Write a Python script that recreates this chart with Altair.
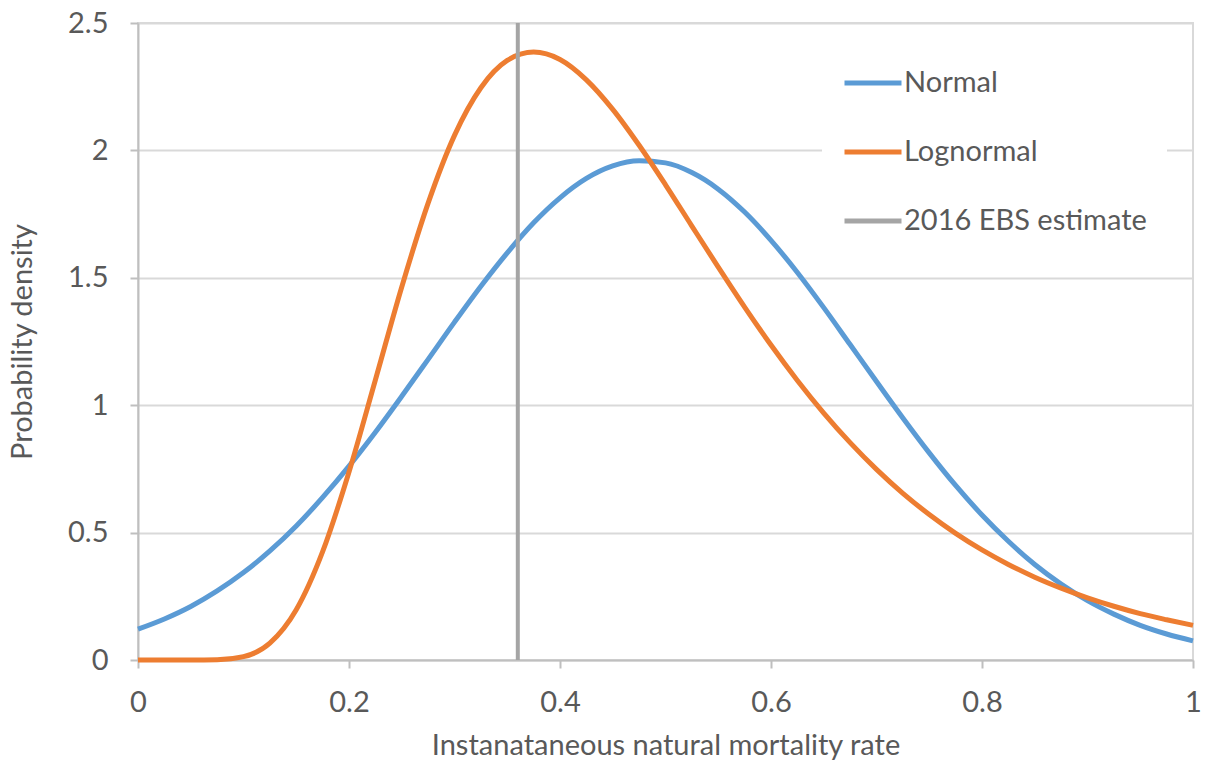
import altair as alt
import pandas as pd

# Natural mortality rate grid and the two prior densities evaluated on it
mortality = [0.0, 0.025, 0.05, 0.075, 0.1, 0.125, 0.15, 0.175, 0.2, 0.225,
             0.25, 0.275, 0.3, 0.325, 0.35, 0.375, 0.4, 0.425, 0.45, 0.475,
             0.5, 0.525, 0.55, 0.575, 0.6, 0.625, 0.65, 0.675, 0.7, 0.725,
             0.75, 0.775, 0.8, 0.825, 0.85, 0.875, 0.9, 0.925, 0.95, 0.975, 1.0]

normal_density = [0.121, 0.161, 0.210, 0.271, 0.343, 0.428, 0.526, 0.638, 0.761, 0.894,
                  1.035, 1.180, 1.326, 1.467, 1.598, 1.716, 1.814, 1.890, 1.939, 1.959,
                  1.951, 1.913, 1.848, 1.758, 1.647, 1.521, 1.383, 1.238, 1.093, 0.950,
                  0.813, 0.685, 0.569, 0.466, 0.375, 0.298, 0.233, 0.180, 0.136, 0.102, 0.075]

lognormal_density = [0.0, 0.0, 0.0, 0.001, 0.013, 0.066, 0.197, 0.425, 0.738, 1.099,
                     1.464, 1.793, 2.059, 2.246, 2.353, 2.386, 2.357, 2.277, 2.161, 2.020,
                     1.865, 1.703, 1.542, 1.385, 1.236, 1.097, 0.969, 0.853, 0.748, 0.654,
                     0.571, 0.497, 0.432, 0.375, 0.325, 0.282, 0.244, 0.211, 0.182, 0.158, 0.136]

ebs_estimate = 0.36

series_names = ["Normal", "Lognormal", "2016 EBS estimate"]
series_colors = ["#5B9BD5", "#ED7D31", "#A5A5A5"]

x_ticks = [0, 0.2, 0.4, 0.6, 0.8, 1]
y_ticks = [0, 0.5, 1, 1.5, 2, 2.5]

curves = pd.concat([
    pd.DataFrame({"m": mortality, "density": normal_density, "series": "Normal"}),
    pd.DataFrame({"m": mortality, "density": lognormal_density, "series": "Lognormal"}),
])
estimate = pd.DataFrame({"m": [ebs_estimate], "series": ["2016 EBS estimate"]})

FONT = "Lato"
TEXT = "#595959"

color = alt.Color(
    "series:N",
    scale=alt.Scale(domain=series_names, range=series_colors),
    legend=alt.Legend(
        title=None,
        orient="none",
        legendX=684,
        legendY=9,
        symbolType="stroke",
        symbolSize=3249,
        symbolStrokeWidth=5,
        labelFont=FONT,
        labelFontSize=29,
        labelColor=TEXT,
        labelOffset=0,
        labelLimit=0,
        rowPadding=23,
        padding=20,
        fillColor="white",
    ),
)

x_enc = alt.X(
    "m:Q",
    scale=alt.Scale(domain=[0, 1], nice=False),
    axis=alt.Axis(
        title="Instanataneous natural mortality rate",
        values=x_ticks,
        format="~g",
        grid=False,
        tickSize=8,
        labelPadding=20,
        labelFlush=False,
        titleY=85,
        titleBaseline="middle",
    ),
)

lines = alt.Chart(curves).mark_line(strokeWidth=5, interpolate="monotone").encode(
    x=x_enc,
    y=alt.Y(
        "density:Q",
        scale=alt.Scale(domain=[0, 2.5], nice=False),
        axis=alt.Axis(
            title="Probability density",
            values=y_ticks,
            format="~g",
            tickSize=8,
            labelPadding=22,
            labelFlush=False,
            titleX=-116,
            titleY=318.5,
            titleBaseline="middle",
            titleAngle=-90,
        ),
    ),
    color=color,
)

rule = alt.Chart(estimate).mark_rule(strokeWidth=4).encode(
    x=alt.X("m:Q"),
    color=color,
)

chart = (
    alt.layer(lines, rule)
    .properties(
        width=1055,
        height=637,
        padding={"left": 138, "top": 23, "right": 18, "bottom": 107},
        autosize=alt.AutoSizeParams(type="none"),
        background="white",
    )
    .configure_view(stroke="#D9D9D9", strokeWidth=2)
    .configure_axis(
        labelFont=FONT,
        labelFontSize=29,
        labelColor=TEXT,
        titleFont=FONT,
        titleFontSize=29,
        titleFontWeight="normal",
        titleColor=TEXT,
        domainColor="#BFBFBF",
        domainWidth=2,
        tickColor="#BFBFBF",
        tickWidth=2,
        gridColor="#D9D9D9",
        gridWidth=2,
    )
)

chart.save("out.html", embed_options={"renderer": "svg", "actions": False})
